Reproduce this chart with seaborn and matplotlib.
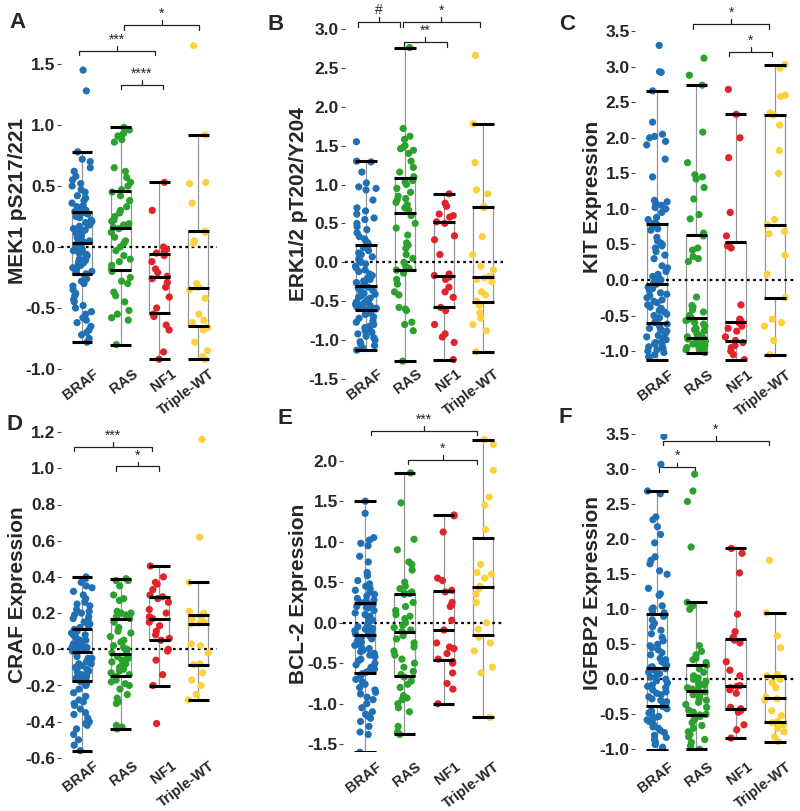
import numpy as np
import pandas as pd
import matplotlib
matplotlib.use('Agg')
import matplotlib.pyplot as plt
import matplotlib.transforms as mtransforms
from matplotlib import cbook
import seaborn as sns

sns.set_style('white')
plt.rcParams['font.family'] = ['Liberation Sans', 'DejaVu Sans']
plt.rcParams['axes.unicode_minus'] = False

groups = ['BRAF', 'RAS', 'NF1', 'Triple-WT']
palette = {'BRAF': '#1f70b4', 'RAS': '#2ba12e', 'NF1': '#e1232a', 'Triple-WT': '#fdd13b'}

# A: MEK1 pS217/221
mek_braf = [1.45, 1.28,
            0.78, 0.72, 0.70, 0.65, 0.62, 0.58, 0.55, 0.52, 0.50, 0.47, 0.45, 0.42, 0.40, 0.38, 0.36, 0.34, 0.33,
            0.32, 0.31, 0.30, 0.29, 0.29, 0.28,
            0.27, 0.26, 0.25, 0.24, 0.22, 0.21, 0.20, 0.19, 0.18, 0.17, 0.15, 0.14, 0.13, 0.12, 0.11, 0.10, 0.09,
            0.08, 0.07, 0.06, 0.05, 0.04, 0.03,
            0.02, 0.01, 0.00, -0.01, -0.02, -0.03, -0.04, -0.05, -0.06, -0.07, -0.08, -0.09, -0.10, -0.11, -0.12,
            -0.13, -0.14, -0.15, -0.17, -0.18, -0.20, -0.21, -0.22,
            -0.24, -0.26, -0.28, -0.30, -0.32, -0.35, -0.38, -0.40, -0.43, -0.45, -0.48, -0.50, -0.53, -0.55,
            -0.58, -0.60, -0.62, -0.65, -0.68, -0.70, -0.72, -0.75, -0.78]
mek_ras = [0.98, 0.96, 0.93, 0.91, 0.88, 0.86, 0.65, 0.62, 0.57, 0.53, 0.50, 0.47,
           0.45, 0.42, 0.38, 0.33, 0.30, 0.28, 0.25, 0.22, 0.21, 0.19, 0.18, 0.16,
           0.15, 0.12, 0.08, 0.05, 0.03, 0.00, -0.03, -0.07, -0.10, -0.12, -0.15, -0.18,
           -0.20, -0.25, -0.28, -0.30, -0.37, -0.40, -0.45, -0.52, -0.55, -0.58, -0.60, -0.80]
mek_nf1 = [0.53, 0.30, 0.00, -0.02, -0.04, -0.05, -0.07, -0.12, -0.18, -0.21, -0.24, -0.26, -0.29, -0.33,
           -0.41, -0.50, -0.55, -0.57, -0.64, -0.68, -0.86, -0.92]
mek_twt = [1.65, 0.92, 0.53, 0.52, 0.36, 0.13, 0.12, 0.05, 0.03, -0.30, -0.33, -0.35, -0.42, -0.55, -0.60,
           -0.62, -0.66, -0.68, -0.78, -0.85, -0.90, -0.92]

# B: ERK1/2 pT202/Y204
erk_braf = [1.55, 1.30, 1.29, 1.16, 1.02, 0.97, 0.95, 0.93, 0.80, 0.70, 0.66, 0.62, 0.57, 0.55, 0.50, 0.46,
            0.42, 0.38, 0.33, 0.30, 0.27, 0.25,
            0.22, 0.19, 0.15, 0.12, 0.10, 0.07, 0.04, 0.02, 0.00, -0.02, -0.05, -0.07, -0.10, -0.12, -0.15,
            -0.17, -0.20, -0.22, -0.24, -0.26, -0.28, -0.30,
            -0.32, -0.33, -0.35, -0.36, -0.38, -0.40, -0.41, -0.43, -0.45, -0.46, -0.48, -0.50, -0.51, -0.52,
            -0.54, -0.55, -0.56, -0.57, -0.58, -0.59, -0.60, -0.61,
            -0.63, -0.65, -0.67, -0.70, -0.72, -0.75, -0.77, -0.80, -0.82, -0.84, -0.86, -0.88, -0.90, -0.92,
            -0.95, -0.97, -1.00, -1.02, -1.05, -1.07, -1.10, -1.13]
erk_ras = [2.76, 1.72, 1.62, 1.58, 1.50, 1.48, 1.46, 1.44, 1.40, 1.30, 1.22, 1.16, 1.10,
           1.05, 1.03, 1.00, 0.95, 0.90, 0.85, 0.82, 0.80, 0.77, 0.74, 0.70, 0.67,
           0.60, 0.50, 0.44, 0.35, 0.25, 0.22, 0.18, 0.10, 0.05, 0.00, -0.05, -0.08,
           -0.10, -0.14, -0.22, -0.28, -0.38, -0.42, -0.58, -0.60, -0.62, -0.77, -0.80, -0.88, -1.27]
erk_nf1 = [0.88, 0.76, 0.72, 0.62, 0.60, 0.58, 0.52, 0.50, 0.34, 0.29, 0.10, -0.15, -0.17, -0.19, -0.22,
           -0.32, -0.38, -0.45, -0.58, -0.62, -0.80, -0.92, -0.96, -1.03, -1.25]
erk_twt = [2.66, 1.78, 1.28, 0.93, 0.88, 0.72, 0.70, 0.33, 0.10, -0.05, -0.10, -0.18, -0.20, -0.22, -0.25,
           -0.38, -0.42, -0.50, -0.55, -0.65, -0.72, -0.80, -0.88, -1.15]

# C: KIT
kit_braf = [3.30, 2.93, 2.92, 2.66, 2.22, 2.05, 2.02, 2.00, 1.95, 1.90, 1.70, 1.45, 1.12, 1.10, 1.08, 1.05,
            1.02, 1.00, 0.95, 0.88, 0.85, 0.80, 0.78, 0.76,
            0.72, 0.70, 0.60, 0.55, 0.52, 0.50, 0.48, 0.45, 0.40, 0.35, 0.30, 0.20, 0.17, 0.12, 0.08, 0.05,
            0.02, 0.00, -0.02, -0.04, -0.06,
            -0.10, -0.12, -0.15, -0.18, -0.20, -0.22, -0.25, -0.28, -0.30, -0.32, -0.35, -0.38, -0.40, -0.43,
            -0.45, -0.48, -0.50, -0.53, -0.55, -0.58, -0.60, -0.62,
            -0.65, -0.68, -0.70, -0.72, -0.75, -0.78, -0.80, -0.82, -0.84, -0.86, -0.88, -0.90, -0.92, -0.94,
            -0.96, -0.98, -1.00, -1.02, -1.05, -1.08, -1.13]
kit_ras = [3.12, 2.88, 2.74, 2.08, 1.65, 1.48, 1.45, 1.42, 1.30, 1.14, 0.92, 0.86, 0.66,
           0.62, 0.45, 0.42, 0.33, 0.30, 0.26, -0.24, -0.36, -0.38, -0.42, -0.45, -0.50, -0.52,
           -0.55, -0.57, -0.60, -0.62, -0.65, -0.68, -0.70, -0.72, -0.75, -0.77, -0.79, -0.80, -0.82,
           -0.83, -0.85, -0.86, -0.88, -0.90, -0.91, -0.92, -0.94, -0.95, -0.97, -0.98, -1.00, -1.02]
kit_nf1 = [2.68, 2.33, 2.00, 1.72, 0.95, 0.62, 0.50, 0.48, 0.45, -0.35, -0.55, -0.58, -0.60, -0.65, -0.68,
           -0.72, -0.80, -0.85, -0.88, -0.92, -0.95, -1.00, -1.05, -1.12]
kit_twt = [3.03, 2.98, 2.60, 2.58, 2.35, 2.32, 2.18, 1.82, 1.50, 0.85, 0.78, 0.68, 0.65, 0.35, 0.08, -0.25,
           -0.55, -0.60, -0.65, -0.85, -1.05]

# D: CRAF
craf_braf = [0.40, 0.39, 0.37, 0.35, 0.34, 0.32, 0.30, 0.28, 0.26, 0.25, 0.24, 0.22, 0.21, 0.20, 0.19, 0.18,
             0.17, 0.16, 0.15, 0.14, 0.13, 0.12,
             0.11, 0.10, 0.09, 0.08, 0.08, 0.07, 0.06, 0.05, 0.05, 0.04, 0.03, 0.03, 0.02, 0.02, 0.01, 0.01,
             0.00, 0.00, 0.00, -0.01, -0.01, -0.01,
             -0.02, -0.04, -0.05, -0.05, -0.06, -0.07, -0.08, -0.08, -0.09, -0.10, -0.11, -0.11, -0.12, -0.13,
             -0.13, -0.14, -0.15, -0.15, -0.16, -0.16, -0.17, -0.17,
             -0.18, -0.19, -0.20, -0.22, -0.24, -0.26, -0.28, -0.29, -0.30, -0.31, -0.33, -0.35, -0.36, -0.38,
             -0.40, -0.41, -0.42, -0.44, -0.47, -0.50, -0.53, -0.56]
craf_ras = [0.39, 0.38, 0.38, 0.35, 0.30, 0.28, 0.27, 0.21, 0.20, 0.20, 0.19, 0.18,
            0.17, 0.15, 0.12, 0.10, 0.09, 0.07, 0.05, 0.04, 0.02, 0.01, 0.00, -0.01, -0.02,
            -0.03, -0.04, -0.05, -0.06, -0.07, -0.08, -0.09, -0.10, -0.11, -0.12, -0.13, -0.14,
            -0.15, -0.17, -0.18, -0.19, -0.20, -0.22, -0.25, -0.27, -0.29, -0.30, -0.42, -0.43, -0.44]
craf_nf1 = [0.46, 0.40, 0.37, 0.36, 0.33, 0.30, 0.29, 0.28, 0.26, 0.22, 0.20, 0.18, 0.17, 0.15, 0.13, 0.10,
            0.08, 0.06, 0.05, 0.00, -0.01, -0.06, -0.14, -0.20, -0.41]
craf_twt = [1.16, 0.62, 0.37, 0.21, 0.20, 0.19, 0.18, 0.17, 0.15, 0.145, 0.14, 0.03, 0.02, -0.02, -0.08,
            -0.085, -0.13, -0.17, -0.20, -0.25, -0.28]

# E: BCL-2
bcl_braf = [1.50, 1.35, 1.05, 1.02, 0.98, 0.95, 0.82, 0.75, 0.62, 0.58, 0.52, 0.48, 0.45, 0.42, 0.40, 0.38,
            0.35, 0.33, 0.30, 0.28, 0.27, 0.25,
            0.24, 0.22, 0.20, 0.19, 0.18, 0.15, 0.12, 0.10, 0.08, 0.05, 0.03, 0.00, -0.02, -0.04, -0.05, -0.07,
            -0.08, -0.10, -0.11, -0.12, -0.13, -0.14,
            -0.16, -0.18, -0.20, -0.22, -0.24, -0.26, -0.28, -0.30, -0.32, -0.34, -0.36, -0.38, -0.40, -0.42,
            -0.45, -0.47, -0.50, -0.52, -0.55, -0.57, -0.59, -0.61,
            -0.63, -0.66, -0.70, -0.73, -0.76, -0.80, -0.83, -0.86, -0.88, -0.92, -0.95, -1.00, -1.05, -1.10,
            -1.13, -1.15, -1.18, -1.22, -1.28, -1.35, -1.38, -1.60]
bcl_ras = [1.85, 1.48, 1.03, 0.90, 0.75, 0.72, 0.65, 0.50, 0.45, 0.42, 0.38, 0.36,
           0.36, 0.35, 0.25, 0.20, 0.15, 0.10, 0.08, 0.05, 0.00, -0.03, -0.06, -0.09, -0.11,
           -0.13, -0.16, -0.20, -0.25, -0.30, -0.35, -0.40, -0.45, -0.50, -0.55, -0.60, -0.64,
           -0.67, -0.72, -0.76, -0.80, -0.90, -0.93, -0.95, -1.00, -1.05, -1.10, -1.28, -1.35, -1.38]
bcl_nf1 = [1.33, 1.32, 1.12, 0.55, 0.52, 0.40, 0.38, 0.25, 0.22, 0.20, 0.03, -0.09, -0.25, -0.30, -0.32,
           -0.38, -0.45, -0.48, -0.50, -0.62, -0.75, -0.82, -1.00]
bcl_twt = [2.26, 2.20, 1.88, 1.55, 1.45, 1.15, 0.72, 0.62, 0.60, 0.55, 0.45, 0.42, 0.35, 0.25, 0.00, -0.08,
           -0.18, -0.25, -0.35, -0.55, -0.62, -1.17]

# F: IGFBP2
igf_braf = [3.47, 3.07, 2.69, 2.65, 2.32, 2.28, 2.18, 2.07, 1.95, 1.75, 1.70, 1.65, 1.55, 1.50, 1.30, 1.22,
            1.20, 1.05, 1.02, 1.00, 0.97, 0.95,
            0.92, 0.90, 0.85, 0.80, 0.75, 0.70, 0.65, 0.60, 0.55, 0.50, 0.48, 0.45, 0.42, 0.38, 0.35, 0.30,
            0.28, 0.25, 0.22, 0.20, 0.18, 0.17,
            0.15, 0.13, 0.10, 0.08, 0.05, 0.03, 0.00, -0.02, -0.05, -0.08, -0.10, -0.12, -0.15, -0.18, -0.20,
            -0.22, -0.25, -0.28, -0.30, -0.32, -0.35, -0.37,
            -0.39, -0.42, -0.45, -0.48, -0.50, -0.53, -0.55, -0.58, -0.60, -0.63, -0.65, -0.68, -0.70, -0.73,
            -0.76, -0.80, -0.83, -0.86, -0.90, -0.93, -0.97, -1.01]
igf_ras = [2.93, 2.69, 2.54, 1.89, 1.10, 1.05, 1.00, 0.48, 0.40, 0.35, 0.30, 0.28, 0.24,
           0.20, 0.15, 0.10, 0.05, 0.02, 0.00, -0.03, -0.05, -0.08, -0.10, -0.12, -0.14, -0.16,
           -0.18, -0.20, -0.22, -0.25, -0.28, -0.30, -0.33, -0.36, -0.40, -0.44, -0.47, -0.50, -0.51,
           -0.53, -0.56, -0.58, -0.62, -0.66, -0.70, -0.75, -0.79, -0.82, -0.86, -0.90, -0.95, -1.00]
igf_nf1 = [1.87, 1.80, 1.52, 0.93, 0.68, 0.60, 0.56, 0.52, 0.25, 0.13, 0.05, -0.09, -0.10, -0.12, -0.15,
           -0.20, -0.40, -0.42, -0.44, -0.45, -0.47, -0.65, -0.72, -0.84]
igf_twt = [1.70, 0.95, 0.62, 0.45, 0.07, 0.05, 0.03, 0.00, -0.05, -0.12, -0.25, -0.28, -0.30, -0.45, -0.52,
           -0.60, -0.62, -0.65, -0.70, -0.75, -0.82, -0.89]

panels = [
    dict(letter='A', ylabel='MEK1 pS217/221', data=[mek_braf, mek_ras, mek_nf1, mek_twt],
         yticks=np.arange(-1.0, 1.51, 0.5), ylim=(-1.0, 1.75),
         pos=(82, 38.7, 247, 122), letter_xy=(17, 23), label_x=27, xlab_y=367,
         brackets=[(1.08, 3.03, 1.82, '*'), (-0.07, 1.89, 1.61, '***'), (1.0, 2.1, 1.33, '****')]),
    dict(letter='B', ylabel='ERK1/2 pT202/Y204', data=[erk_braf, erk_ras, erk_nf1, erk_twt],
         yticks=np.arange(-1.5, 3.01, 0.5), ylim=(-1.5, 3.0),
         pos=(366, 39, 262.3, 77.8), letter_xy=(276, 25), label_x=308, xlab_y=367,
         brackets=[(-0.2, 0.87, 3.09, '#'), (0.95, 2.92, 3.09, '*'), (0.97, 2.08, 2.83, '**')]),
    dict(letter='C', ylabel='KIT Expression', data=[kit_braf, kit_ras, kit_nf1, kit_twt],
         yticks=np.arange(-1.0, 3.51, 0.5), ylim=(-1.15, 3.5),
         pos=(657, 39.3, 280, 71.1), letter_xy=(567, 25), label_x=602, xlab_y=368,
         brackets=[(0.92, 2.85, 3.6, '*'), (1.83, 2.93, 3.21, '*')]),
    dict(letter='D', ylabel='CRAF Expression', data=[craf_braf, craf_ras, craf_nf1, craf_twt],
         yticks=np.arange(-0.6, 1.21, 0.2), ylim=(-0.6, 1.2),
         pos=(82, 38.7, 649.3, 181), letter_xy=(15, 425), label_x=27, xlab_y=759,
         brackets=[(-0.2, 1.8, 1.12, '***'), (0.88, 2.0, 1.01, '*')]),
    dict(letter='E', ylabel='BCL-2 Expression', data=[bcl_braf, bcl_ras, bcl_nf1, bcl_twt],
         yticks=np.arange(-1.5, 2.01, 0.5), ylim=(-1.6, 2.3),
         pos=(365, 39.3, 622.7, 81), letter_xy=(285, 418), label_x=308, xlab_y=760,
         brackets=[(0.15, 2.86, 2.37, '***'), (1.1, 2.86, 2.01, '*')]),
    dict(letter='F', ylabel='IGFBP2 Expression', data=[igf_braf, igf_ras, igf_nf1, igf_twt],
         yticks=np.arange(-1.0, 3.51, 0.5), ylim=(-1.02, 3.5),
         pos=(657, 39.3, 679.3, 70), letter_xy=(565, 417), label_x=602, xlab_y=760,
         brackets=[(0.15, 2.85, 3.41, '*'), (0.05, 0.97, 3.03, '*')]),
]

W, H = 800, 811
fig = plt.figure(figsize=(W / 100, H / 100), dpi=100)
np.random.seed(3)

for p in panels:
    c0, s, y0, ppu = p['pos']
    ylo, yhi = p['ylim']
    top_px = y0 - yhi * ppu
    bot_px = y0 - ylo * ppu
    ax = fig.add_axes([(c0 - 0.55 * s) / W, 1 - bot_px / H, 4.05 * s / W, (bot_px - top_px) / H])
    ax.patch.set_alpha(0)

    df = pd.DataFrame({'group': np.repeat(groups, [len(v) for v in p['data']]),
                       'value': np.concatenate(p['data'])})

    sns.boxplot(data=df, x='group', y='value', order=groups, width=0.52, whis=1.5,
                showfliers=False, showcaps=False, fill=False, color='#959595',
                linewidth=0.9, ax=ax, zorder=1)
    ax.axhline(0, color='black', ls=(0, (1.2, 1.6)), lw=1.6, zorder=2)
    sns.stripplot(data=df, x='group', y='value', order=groups, hue='group', palette=palette,
                  jitter=0.27, size=5.2, linewidth=0, legend=False, ax=ax, zorder=3)

    # thick black lines at whisker ends, quartiles and median
    for i, vals in enumerate(p['data']):
        st = cbook.boxplot_stats(np.asarray(vals), whis=1.5)[0]
        for v in (st['whislo'], st['q1'], st['med'], st['q3'], st['whishi']):
            ax.hlines(v, i - 0.27, i + 0.27, color='black', lw=2.2, zorder=4)

    # significance brackets
    h = 0.014 * (yhi - ylo)
    for x1, x2, yb, lab in p['brackets']:
        xm = (x1 + x2) / 2
        ax.plot([x1, x1, x2, x2], [yb - h, yb, yb, yb - h], color='#222222', lw=0.9, clip_on=False)
        ax.plot([xm, xm], [yb, yb + h], color='#222222', lw=0.9, clip_on=False)
        ax.text(xm, yb + h * 0.9, lab, ha='center', va='bottom', fontsize=10, clip_on=False)

    ax.set_xlim(-0.55, 3.5)
    ax.set_ylim(ylo, yhi)
    ax.set_yticks(p['yticks'])
    ax.set_yticklabels([f'{t:.1f}' for t in p['yticks']], fontsize=12.5, fontweight='bold')
    ax.tick_params(axis='y', left=True, length=3, width=0.8, color='#444444', pad=1)
    ax.set_xticks(range(len(groups)))
    ax.set_xticklabels(groups, rotation=37, ha='right', rotation_mode='anchor',
                       fontsize=10.5, fontweight='bold')
    ax.tick_params(axis='x', bottom=False, length=0, pad=0)
    # category labels: top-right end a little right of the category, just under the plot
    offset = mtransforms.ScaledTranslation(11 / 100, (bot_px - p['xlab_y']) / 100, fig.dpi_scale_trans)
    for lbl in ax.get_xticklabels():
        lbl.set_transform(lbl.get_transform() + offset)
    ax.set_xlabel('')
    ax.set_ylabel(p['ylabel'], fontsize=15, fontweight='bold')
    ax.yaxis.set_label_coords(p['label_x'] / W, 0.5,
                              transform=mtransforms.blended_transform_factory(fig.transFigure, ax.transAxes))
    sns.despine(ax=ax, left=True, bottom=True)

    lx, ly = p['letter_xy']
    fig.text(lx / W, 1 - ly / H, p['letter'], fontsize=16, fontweight='bold', ha='center', va='center')

fig.savefig('out.png', dpi=100)
